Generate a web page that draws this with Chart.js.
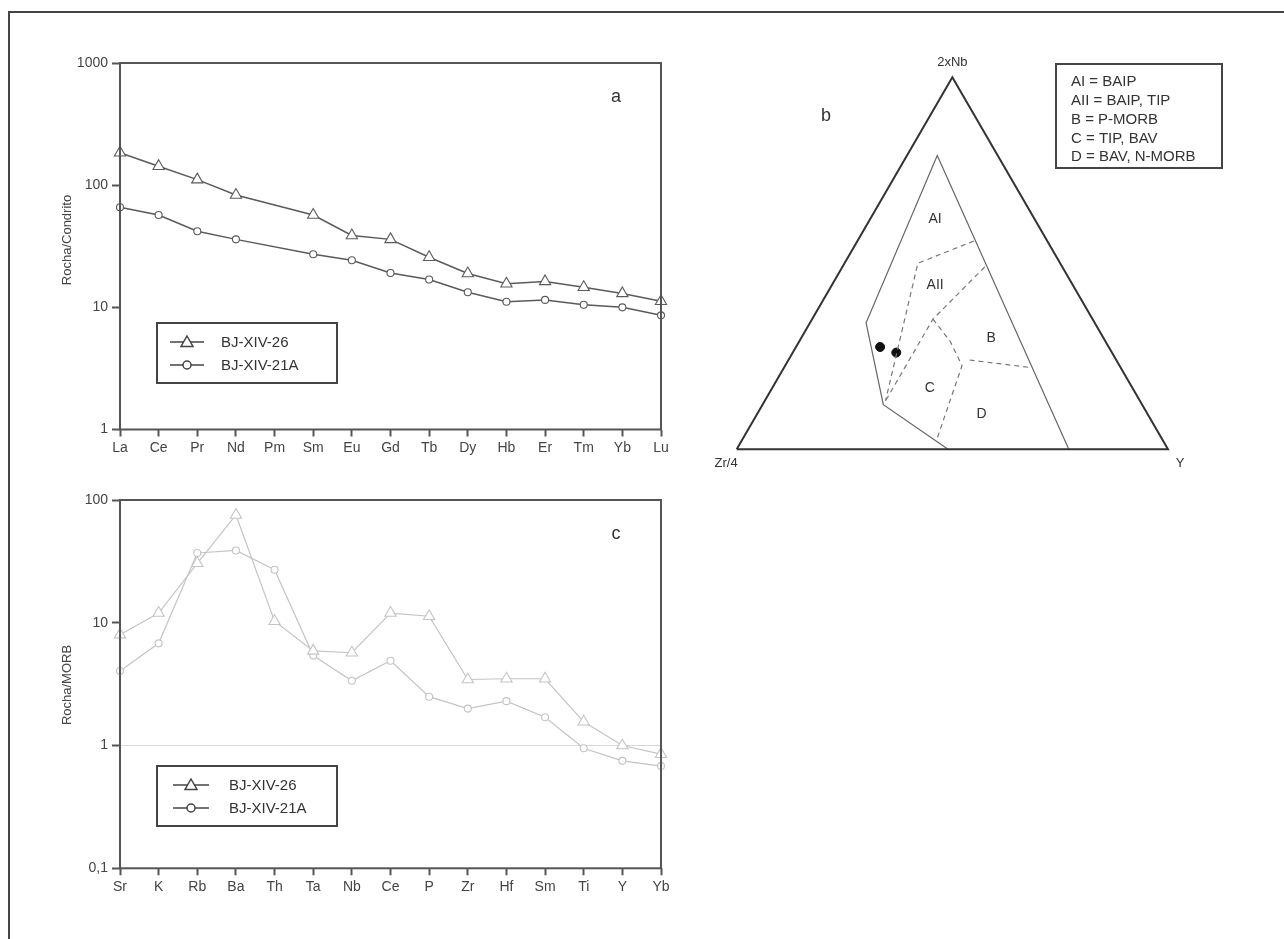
<!DOCTYPE html>
<html>
<head>
<meta charset="utf-8">
<script src="https://cdn.jsdelivr.net/npm/chart.js@4.4.1/dist/chart.umd.min.js"></script>
<style>
  body { margin: 0; background: #fff; width: 1284px; height: 939px; overflow: hidden; position: relative; }
  #frame { position: absolute; left: 8px; top: 11px; width: 1300px; height: 940px; border-left: 2px solid #444; border-top: 2px solid #444; }
  canvas { position: absolute; }
</style>
</head>
<body>
<div id="frame"></div>
<canvas id="chartA" width="680" height="440" style="left:20px;top:40px"></canvas>
<canvas id="chartB" width="540" height="440" style="left:700px;top:40px"></canvas>
<canvas id="chartC" width="680" height="440" style="left:20px;top:477px"></canvas>
<script>
// panel a - REE normalised to chondrite
const reeElements = ['La', 'Ce', 'Pr', 'Nd', 'Pm', 'Sm', 'Eu', 'Gd', 'Tb', 'Dy', 'Hb', 'Er', 'Tm', 'Yb', 'Lu'];
const reeBJ26 = [184, 143, 111, 83, null, 57, 38.7, 36, 25.7, 18.9, 15.6, 16.3, 14.6, 13.0, 11.2];
const reeBJ21A = [66, 57, 42, 36, null, 27.2, 24.3, 19.1, 16.9, 13.3, 11.1, 11.5, 10.5, 10.0, 8.6];
const yTickValuesA = [1, 10, 100, 1000];
const yTickLabelsA = ['1', '10', '100', '1000'];

// panel c - spidergram normalised to MORB
const spiderElements = ['Sr', 'K', 'Rb', 'Ba', 'Th', 'Ta', 'Nb', 'Ce', 'P', 'Zr', 'Hf', 'Sm', 'Ti', 'Y', 'Yb'];
const spiderBJ26 = [8.0, 12, 30.5, 75.5, 10.3, 5.9, 5.7, 12, 11.3, 3.45, 3.5, 3.5, 1.56, 1.0, 0.85];
const spiderBJ21A = [4.05, 6.8, 37, 38.8, 27, 5.4, 3.37, 4.9, 2.5, 2.0, 2.3, 1.7, 0.95, 0.75, 0.68];
const yTickValuesC = [0.1, 1, 10, 100];
const yTickLabelsC = ['0,1', '1', '10', '100'];

const sampleNames = ['BJ-XIV-26', 'BJ-XIV-21A'];

// panel b - ternary Zr/4 - 2xNb - Y, points as [Zr/4, 2xNb, Y] in percent
const fieldOutline = [[23, 0, 77], [14, 79, 7], [53, 34, 13], [60, 12, 28], [51, 0, 49]];
const lineAI_AII = [[17, 56, 27], [33, 50, 17], [59, 13, 28]];
const lineAII_B = [[18, 49, 33], [37, 35, 28], [59, 13, 28]];
const lineC = [[37, 35, 28], [36, 29, 35], [36.5, 22.5, 41], [52, 3, 45]];
const lineB_D = [[34, 24, 42], [21, 22, 57]];
const samplesB = [[53, 27.5, 19.5], [50, 26, 24]];
const fieldLabels = ['AI', 'AII', 'B', 'C', 'D'];
const fieldLabelPos = [[23, 62, 15], [32, 44, 24], [26, 30, 44], [47, 16.5, 36.5], [38.5, 9.5, 52]];
const fieldKey = ['AI = BAIP', 'AII = BAIP, TIP', 'B = P-MORB', 'C = TIP, BAV', 'D = BAV, N-MORB'];
const apexNames = ['Zr/4', '2xNb', 'Y'];

const FONT = '"Liberation Sans", Arial, sans-serif';
const H = Math.sqrt(3) / 2;

function toXY(p) {
    const s = p[0] + p[1] + p[2];
    return { x: (p[2] + p[1] / 2) / s, y: (p[1] / s) * H };
}

function drawMarker(ctx, style, x, y) {
    ctx.beginPath();
    if (style === 'triangle') {
        ctx.moveTo(x, y - 6);
        ctx.lineTo(x + 6, y + 4.5);
        ctx.lineTo(x - 6, y + 4.5);
        ctx.closePath();
    } else {
        ctx.arc(x, y, 4, 0, Math.PI * 2);
    }
    ctx.fillStyle = '#fff';
    ctx.fill();
    ctx.stroke();
}

// frame, axis title, panel letter and legend box for the spider plots
function decorPlugin(title, letter, titleY, legendTop, legendLine) {
    return {
        id: 'decor',
        afterDraw(chart) {
            const { ctx, chartArea: a } = chart;
            ctx.save();
            ctx.strokeStyle = '#555';
            ctx.lineWidth = 2;
            ctx.strokeRect(a.left, a.top, a.right - a.left, a.bottom - a.top);

            ctx.fillStyle = '#444';
            ctx.font = '13px ' + FONT;
            ctx.textAlign = 'center';
            ctx.textBaseline = 'middle';
            ctx.save();
            ctx.translate(47, titleY);
            ctx.rotate(-Math.PI / 2);
            ctx.fillText(title, 0, 0);
            ctx.restore();

            ctx.fillStyle = '#333';
            ctx.font = '18px ' + FONT;
            ctx.fillText(letter, a.left + 496, a.top + 34);

            // legend
            const bx = a.left + 37, by = a.top + legendTop;
            ctx.strokeStyle = '#444';
            ctx.lineWidth = 2;
            ctx.strokeRect(bx, by, 180, 60);
            ctx.lineWidth = 1.5;
            ctx.font = '15px ' + FONT;
            ctx.textAlign = 'left';
            chart.data.datasets.forEach((ds, i) => {
                const y = by + 19 + i * 23;
                ctx.strokeStyle = '#444';
                ctx.beginPath();
                ctx.moveTo(bx + legendLine[0], y);
                ctx.lineTo(bx + legendLine[1], y);
                ctx.stroke();
                drawMarker(ctx, ds.pointStyle, bx + (legendLine[0] + legendLine[1]) / 2, y);
                ctx.fillStyle = '#333';
                ctx.fillText(ds.label, bx + legendLine[2], y + 1);
            });
            ctx.restore();
        }
    };
}

function spiderOptions(tickValues, tickLabels, topPad, xHeight, showUnity) {
    return {
        responsive: false,
        animation: false,
        layout: { padding: { left: 0, top: topPad, right: 39, bottom: 0 } },
        plugins: { legend: { display: false }, tooltip: { enabled: false } },
        scales: {
            x: {
                offset: false,
                border: { display: false },
                grid: { drawOnChartArea: false, tickLength: 7, tickColor: '#555', tickWidth: 2 },
                ticks: { color: '#444', font: { family: FONT, size: 14 }, padding: 3, maxRotation: 0, autoSkip: false },
                afterFit: (s) => { s.height = xHeight; }
            },
            y: {
                type: 'logarithmic',
                min: tickValues[0],
                max: tickValues[tickValues.length - 1],
                border: { display: false },
                grid: {
                    drawOnChartArea: showUnity,
                    color: (c) => (c.tick && c.tick.value === 1) ? '#d8d8d8' : 'rgba(0,0,0,0)',
                    lineWidth: 1,
                    tickLength: 8,
                    tickColor: '#555',
                    tickWidth: 2
                },
                ticks: {
                    color: '#444',
                    font: { family: FONT, size: 14 },
                    padding: 4,
                    autoSkip: false,
                    callback: (v) => tickLabels[tickValues.indexOf(v)]
                },
                afterBuildTicks: (s) => { s.ticks = tickValues.map(v => ({ value: v })); },
                afterFit: (s) => { s.width = 100; }
            }
        }
    };
}

function seriesSet(label, data, style, color, width, radius) {
    return {
        label: label,
        data: data,
        borderColor: color,
        borderWidth: width,
        pointStyle: style,
        pointRadius: radius,
        pointBackgroundColor: '#fff',
        pointBorderColor: color,
        pointBorderWidth: 1.1,
        spanGaps: true,
        tension: 0,
        fill: false,
        clip: false
    };
}

new Chart(document.getElementById('chartA').getContext('2d'), {
    type: 'line',
    data: {
        labels: reeElements,
        datasets: [
            seriesSet(sampleNames[0], reeBJ26, 'triangle', '#5a5a5a', 1.5, 6.5),
            seriesSet(sampleNames[1], reeBJ21A, 'circle', '#5a5a5a', 1.5, 3.5)
        ]
    },
    options: spiderOptions(yTickValuesA, yTickLabelsA, 23, 50.5, false),
    plugins: [decorPlugin('Rocha/Condrito', 'a', 200, 260, [13, 47, 64])]
});

new Chart(document.getElementById('chartC').getContext('2d'), {
    type: 'line',
    data: {
        labels: spiderElements,
        datasets: [
            seriesSet(sampleNames[0], spiderBJ26, 'triangle', '#c4c4c4', 1.2, 6.5),
            seriesSet(sampleNames[1], spiderBJ21A, 'circle', '#c4c4c4', 1.2, 3.5)
        ]
    },
    options: spiderOptions(yTickValuesC, yTickLabelsC, 23, 48.7, true),
    plugins: [decorPlugin('Rocha/MORB', 'c', 208, 266, [16, 52, 72])]
});

// ternary diagram
function polyline(points, color, width, dash) {
    return {
        data: points.map(toXY),
        showLine: true,
        borderColor: color,
        borderWidth: width,
        borderDash: dash,
        pointRadius: 0,
        tension: 0,
        fill: false,
        clip: false
    };
}

const outerTriangle = [[100, 0, 0], [0, 100, 0], [0, 0, 100], [100, 0, 0]];

new Chart(document.getElementById('chartB').getContext('2d'), {
    type: 'scatter',
    data: {
        datasets: [
            polyline(outerTriangle, '#333', 2, []),
            polyline(fieldOutline, '#666', 1.2, []),
            polyline(lineAI_AII, '#777', 1.2, [5, 4]),
            polyline(lineAII_B, '#777', 1.2, [5, 4]),
            polyline(lineC, '#777', 1.2, [5, 4]),
            polyline(lineB_D, '#777', 1.2, [5, 4]),
            {
                data: samplesB.map(toXY),
                showLine: false,
                pointRadius: 4.5,
                pointBackgroundColor: '#111',
                pointBorderColor: '#111',
                clip: false
            }
        ]
    },
    options: {
        responsive: false,
        animation: false,
        layout: { padding: { left: 36.7, right: 72, top: 37.3, bottom: 30.7 } },
        plugins: { legend: { display: false }, tooltip: { enabled: false } },
        scales: {
            x: { type: 'linear', min: 0, max: 1, display: false },
            y: { type: 'linear', min: 0, max: H, display: false }
        }
    },
    plugins: [{
        id: 'ternaryText',
        afterDraw(chart) {
            const { ctx } = chart;
            const sx = chart.scales.x, sy = chart.scales.y;
            const px = (p) => { const q = toXY(p); return [sx.getPixelForValue(q.x), sy.getPixelForValue(q.y)]; };
            ctx.save();
            ctx.fillStyle = '#333';
            ctx.textBaseline = 'middle';
            ctx.font = '13px ' + FONT;
            let v = px([100, 0, 0]);
            ctx.textAlign = 'right';
            ctx.fillText(apexNames[0], v[0] + 1, v[1] + 14);
            v = px([0, 100, 0]);
            ctx.textAlign = 'center';
            ctx.fillText(apexNames[1], v[0], v[1] - 15);
            v = px([0, 0, 100]);
            ctx.fillText(apexNames[2], v[0] + 12, v[1] + 14);

            ctx.font = '14px ' + FONT;
            fieldLabels.forEach((t, i) => {
                const p = px(fieldLabelPos[i]);
                ctx.fillText(t, p[0], p[1]);
            });

            ctx.font = '18px ' + FONT;
            ctx.fillText('b', 126, 76);

            // key box
            ctx.strokeStyle = '#444';
            ctx.lineWidth = 2;
            ctx.strokeRect(356, 24, 166, 104);
            ctx.font = '15px ' + FONT;
            ctx.textAlign = 'left';
            fieldKey.forEach((t, i) => ctx.fillText(t, 371, 42 + i * 18.8));
            ctx.restore();
        }
    }]
});
</script>
</body>
</html>
